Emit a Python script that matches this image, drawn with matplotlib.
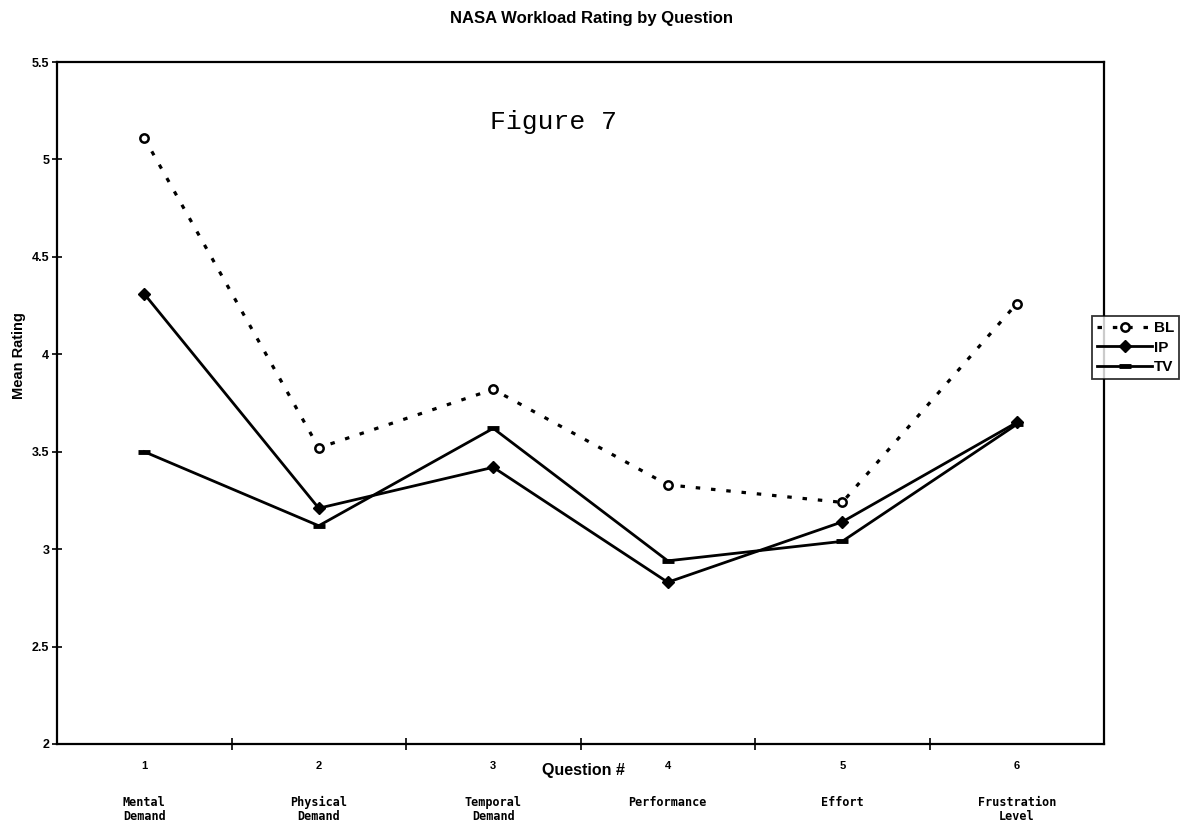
import matplotlib
matplotlib.use("Agg")
import matplotlib.pyplot as plt
from matplotlib.transforms import blended_transform_factory

question_numbers = ["1", "2", "3", "4", "5", "6"]
question_names = ["Mental\nDemand", "Physical\nDemand", "Temporal\nDemand",
                  "Performance", "Effort", "Frustration\nLevel"]
bl_values = [5.11, 3.52, 3.82, 3.33, 3.24, 4.26]
ip_values = [4.31, 3.21, 3.42, 2.83, 3.14, 3.65]
tv_values = [3.50, 3.12, 3.62, 2.94, 3.04, 3.64]
y_ticks = [2, 2.5, 3, 3.5, 4, 4.5, 5, 5.5]
y_tick_labels = ["2", "2.5", "3", "3.5", "4", "4.5", "5", "5.5"]

W, H = 1186, 826
fig = plt.figure(figsize=(W / 100, H / 100), dpi=100)
fig.patch.set_facecolor("white")

left, right, top, bottom = 57, 1104, 62, 744
ax = fig.add_axes([left / W, 1 - bottom / H, (right - left) / W, (bottom - top) / H])

x = list(range(1, len(question_numbers) + 1))

ax.plot(x, bl_values, color="black", lw=2.3, linestyle=(0, (1.4, 3.4)),
        marker="o", markersize=6, markerfacecolor="white", markeredgecolor="black",
        markeredgewidth=1.8, label="BL")
ax.plot(x, ip_values, color="black", lw=2.0, linestyle="-",
        marker="D", markersize=6, markerfacecolor="black", markeredgecolor="black",
        label="IP")
ax.plot(x, tv_values, color="black", lw=2.0, linestyle="-",
        marker="_", markersize=8, markeredgewidth=3.5, markeredgecolor="black",
        label="TV")

ax.set_xlim(0.5, 6.5)
ax.set_ylim(2, 5.5)

for s in ax.spines.values():
    s.set_linewidth(1.6)
    s.set_color("black")

ax.set_yticks(y_ticks)
ax.set_yticklabels(y_tick_labels, fontsize=9, fontweight="bold",
                   family=["Liberation Sans", "DejaVu Sans"])
ax.tick_params(axis="y", direction="inout", length=7, width=1.2, pad=2)

# category number labels as major ticks (no tick marks), boundaries as minor ticks
ax.set_xticks(x)
ax.set_xticklabels(question_numbers, fontsize=8, fontweight="bold",
                   family=["Liberation Sans", "DejaVu Sans"])
ax.tick_params(axis="x", which="major", length=0, pad=12)
ax.set_xticks([1.5, 2.5, 3.5, 4.5, 5.5], minor=True)
ax.tick_params(axis="x", which="minor", direction="inout", length=9, width=1.2)

trans = blended_transform_factory(ax.transData, fig.transFigure)
for xi, name in zip(x, question_names):
    ax.text(xi, 1 - 796 / H, name, transform=trans, ha="center", va="top",
            fontsize=8.5, fontweight="bold", family=["DejaVu Sans Mono"],
            linespacing=1.05)

fig.text(583 / W, 1 - 770 / H, "Question #", ha="center", va="center",
         fontsize=11.5, fontweight="bold", family=["Liberation Sans", "DejaVu Sans"])
fig.text(19 / W, 1 - 356 / H, "Mean Rating", ha="center", va="center", rotation=90,
         fontsize=10.5, fontweight="bold", family=["Liberation Sans", "DejaVu Sans"])

fig.text(592 / W, 1 - 18 / H, "NASA Workload Rating by Question", ha="center",
         va="center", fontsize=12, fontweight="bold",
         family=["Liberation Sans", "DejaVu Sans"])

fig.text(553 / W, 1 - 122 / H, "Figure 7", ha="center", va="center",
         fontsize=19, family=["Liberation Mono", "DejaVu Sans Mono"])

leg = fig.legend(loc="upper left", bbox_to_anchor=(1092 / W, 1 - 316 / H),
                 frameon=True, fancybox=False, shadow=False, handlelength=3.6,
                 handletextpad=0.1, borderpad=0.35, labelspacing=0.35,
                 borderaxespad=0, prop={"family": "Liberation Sans", "weight": "bold",
                                        "size": 11})
leg.get_frame().set_edgecolor("black")
leg.get_frame().set_linewidth(1.3)

fig.savefig("out.png", dpi=100, facecolor="white")
